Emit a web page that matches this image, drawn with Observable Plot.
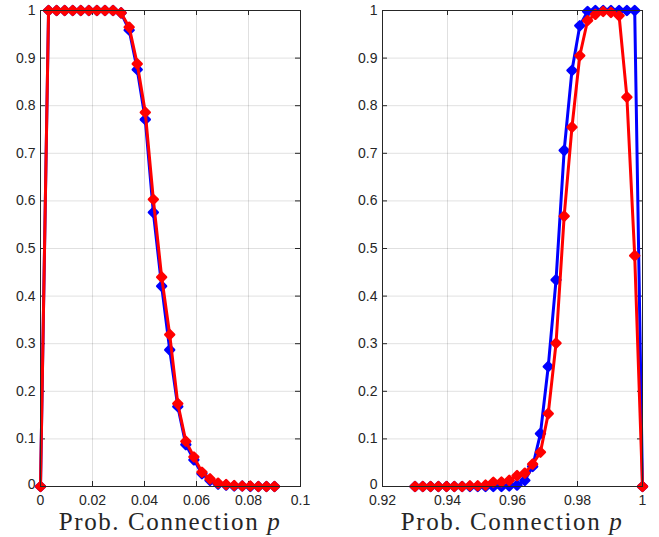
<!DOCTYPE html>
<html><head><meta charset="utf-8">
<script src="https://cdn.jsdelivr.net/npm/d3@7"></script>
<script src="https://cdn.jsdelivr.net/npm/@observablehq/plot@0.6"></script>
<style>
body{margin:0;background:#fff;}
#wrap{position:relative;width:659px;height:537px;overflow:hidden;}
#wrap svg{position:absolute;top:0;}
.xl{position:absolute;font-family:"Liberation Serif","Times New Roman",serif;font-size:25px;line-height:18px;letter-spacing:1.6px;color:#262626;white-space:nowrap;transform:translateX(-50%);top:513px;}
</style></head>
<body><div id="wrap"></div>
<script>
// Left panel
const xLeft = [0,0.0031,0.0062,0.0093,0.0124,0.0155,0.0186,0.0217,0.0248,0.0279,0.0310,0.0341,0.0372,0.0403,0.0434,0.0466,0.0497,0.0528,0.0559,0.0590,0.0621,0.0652,0.0683,0.0714,0.0745,0.0776,0.0807,0.0838,0.0869,0.0900];
const blueLeft = [0,1,1,1,1,1,1,1,1,1,0.995,0.959,0.876,0.771,0.576,0.421,0.287,0.168,0.088,0.056,0.027,0.013,0.005,0.003,0.001,0.001,0,0,0,0];
const redLeft  = [0,1,1,1,1,1,1,1,1,1,0.995,0.965,0.888,0.786,0.603,0.440,0.319,0.174,0.095,0.062,0.030,0.016,0.007,0.004,0.002,0.001,0.001,0,0,0];
// Right panel
const xRight = [0.9300,0.9324,0.9348,0.9372,0.9397,0.9421,0.9445,0.9469,0.9493,0.9517,0.9541,0.9566,0.9590,0.9614,0.9638,0.9662,0.9686,0.9710,0.9734,0.9759,0.9783,0.9807,0.9831,0.9855,0.9879,0.9903,0.9928,0.9952,0.9976,1.0];
const blueRight = [0,0,0,0,0,0,0,0,0,0,0,0,0.001,0.003,0.013,0.042,0.111,0.252,0.434,0.706,0.874,0.968,0.998,1,1,1,1,1,1,0];
const redRight  = [0,0,0,0,0,0,0,0.0015,0.0015,0.003,0.009,0.0095,0.013,0.023,0.028,0.047,0.072,0.153,0.301,0.568,0.755,0.905,0.979,0.992,0.998,0.996,0.989,0.818,0.485,0];
// Ticks
const yTicks = [0,0.1,0.2,0.3,0.4,0.5,0.6,0.7,0.8,0.9,1];
const yTickLabels = ["0","0.1","0.2","0.3","0.4","0.5","0.6","0.7","0.8","0.9","1"];
const xTicksLeft = [0,0.02,0.04,0.06,0.08,0.1];
const xTickLabelsLeft = ["0","0.02","0.04","0.06","0.08","0.1"];
const xTicksRight = [0.92,0.94,0.96,0.98,1];
const xTickLabelsRight = ["0.92","0.94","0.96","0.98","1"];
const xLabel = "Prob. Connection ";

function panel(xs, blue, red, xDomain, xTicks, xTickLabels, width, mL, mR) {
  const blueData = xs.map((x,i)=>({x, y: blue[i]}));
  const redData = xs.map((x,i)=>({x, y: red[i]}));
  const plotW = width - mL - mR;
  const plotH = 476;
  const tx = (xDomain[1]-xDomain[0]) * 5 / plotW;
  const ty = 5 / plotH;
  const fmtX = d => xTickLabels[xTicks.indexOf(d)];
  const fmtY = d => yTickLabels[yTicks.indexOf(d)];
  return Plot.plot({
    width, height: 537,
    marginLeft: mL, marginRight: mR, marginTop: 10, marginBottom: 51,
    style: {fontFamily: "'Liberation Sans', Arial, sans-serif", fontSize: "14px", color: "#262626", background: "transparent", overflow: "visible"},
    x: {domain: xDomain, ticks: xTicks, tickFormat: fmtX, label: null},
    y: {domain: [0,1], ticks: yTicks, tickFormat: fmtY, label: null},
    marks: [
      Plot.gridX(xTicks, {stroke: "#000", strokeOpacity: 0.12, strokeWidth: 1}),
      Plot.gridY(yTicks, {stroke: "#000", strokeOpacity: 0.12, strokeWidth: 1}),
      Plot.axisX(xTicks, {tickSize: 0, tickPadding: 9, tickFormat: fmtX, fontSize: 14, fill: "#262626"}),
      Plot.axisY(yTicks.slice(1), {tickSize: 0, tickPadding: 5, tickFormat: fmtY, fontSize: 14, fill: "#262626"}),
      Plot.axisY(yTicks.slice(0,1), {tickSize: 0, tickPadding: 5, tickFormat: fmtY, fontSize: 14, fill: "#262626", dy: -1.5}),
      Plot.ruleX(xTicks, {x: d=>d, y1: 0, y2: ty, stroke: "#262626"}),
      Plot.ruleX(xTicks, {x: d=>d, y1: 1-ty, y2: 1, stroke: "#262626"}),
      Plot.ruleY(yTicks, {y: d=>d, x1: xDomain[0], x2: xDomain[0]+tx, stroke: "#262626"}),
      Plot.ruleY(yTicks, {y: d=>d, x1: xDomain[1]-tx, x2: xDomain[1], stroke: "#262626"}),
      Plot.line(blueData, {x: "x", y: "y", stroke: "#0000ff", strokeWidth: 3}),
      Plot.dot(blueData, {x: "x", y: "y", symbol: "diamond2", r: 4, fill: "#0000ff", stroke: "#0000ff", strokeWidth: 2.5, strokeLinejoin: "round"}),
      Plot.line(redData, {x: "x", y: "y", stroke: "#ff0000", strokeWidth: 3}),
      Plot.dot(redData, {x: "x", y: "y", symbol: "diamond2", r: 4, fill: "#ff0000", stroke: "#ff0000", strokeWidth: 2.5, strokeLinejoin: "round"}),
      Plot.frame({stroke: "#262626", strokeWidth: 1})
    ]
  });
}

const wrap = document.getElementById("wrap");
const left = panel(xLeft, blueLeft, redLeft, [0,0.1], xTicksLeft, xTickLabelsLeft, 330, 40, 30);
left.style.left = "0px";
wrap.appendChild(left);
const right = panel(xRight, blueRight, redRight, [0.92,1], xTicksRight, xTickLabelsRight, 329, 52, 17);
right.style.left = "330px";
wrap.appendChild(right);

for (const cx of [170, 512]) {
  const d = document.createElement("div");
  d.className = "xl";
  d.style.left = cx + "px";
  d.append(xLabel);
  const i = document.createElement("i");
  i.textContent = "p";
  d.append(i);
  wrap.appendChild(d);
}
</script></body></html>
